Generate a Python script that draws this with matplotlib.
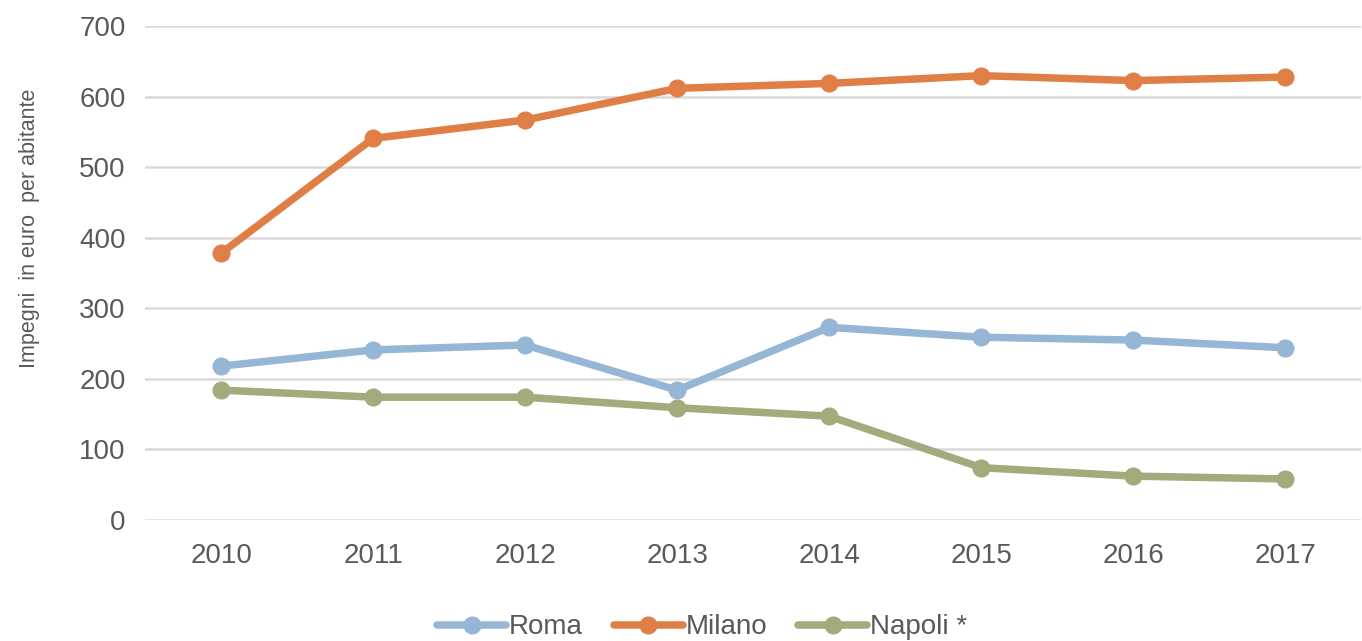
import matplotlib.pyplot as plt

plt.rcParams['font.family'] = ['Liberation Sans Narrow', 'Liberation Sans', 'DejaVu Sans']

anni = ['2010', '2011', '2012', '2013', '2014', '2015', '2016', '2017']
roma = [218, 241, 248, 184, 273, 259, 255, 244]
milano = [378, 541, 567, 612, 619, 630, 623, 628]
napoli = [184, 174, 174, 159, 147, 74, 62, 58]

colori = {'Roma': '#95b6d5', 'Milano': '#e07f45', 'Napoli *': '#a3aa7c'}
testo = '#595959'

fig = plt.figure(figsize=(13.62, 6.41), dpi=100)
ax = fig.add_axes([0.1065, 0.189, 0.893, 0.770])

x = range(len(anni))
for nome, valori in [('Roma', roma), ('Milano', milano), ('Napoli *', napoli)]:
    ax.plot(x, valori, color=colori[nome], lw=5.4, marker='o', ms=12,
            label=nome, solid_capstyle='round', zorder=3)

ax.set_xlim(-0.5, len(anni) - 0.5)
ax.set_ylim(0, 700)
ax.set_yticks(range(0, 701, 100))
ax.set_xticks(list(x))
ax.set_xticklabels(anni)
ax.grid(axis='y', color='#d9d9d9', lw=1.8, zorder=0)
for s in ax.spines.values():
    s.set_visible(False)
ax.tick_params(length=0, labelsize=20, colors=testo, pad=14)
ax.tick_params(axis='x', pad=17)

ax.set_ylabel('Impegni  in euro  per abitante', fontsize=15.5, color=testo)
ax.yaxis.set_label_coords(-0.086, 0.59)

ax.legend(loc='lower center', bbox_to_anchor=(0.458, -0.295), ncol=3, frameon=False,
          fontsize=20, labelcolor=testo, handlelength=2.5, handletextpad=0.1,
          columnspacing=1.1)

fig.savefig('out.png', dpi=100)
